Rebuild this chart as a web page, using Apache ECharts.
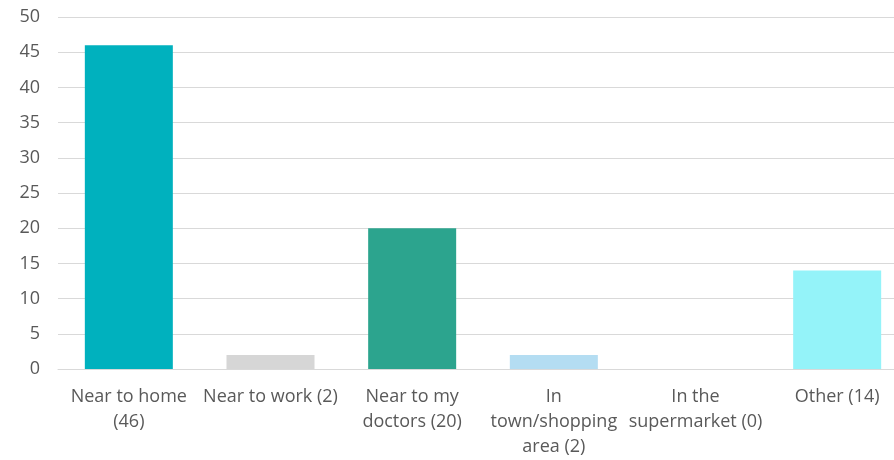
<!DOCTYPE html>
<html><head><meta charset="utf-8">
<script src="https://cdn.jsdelivr.net/npm/echarts@6/dist/echarts.min.js"></script>
<style>html,body{margin:0;padding:0;background:#fff;overflow:hidden;width:894px;height:460px}#c{width:908px;height:460px}</style>
</head><body><div id="c"></div>
<script>
const categories = ["Near to home\n(46)", "Near to work (2)", "Near to my\ndoctors (20)", "In\ntown/shopping\narea (2)", "In the\nsupermarket (0)", "Other (14)"];
const values = [46, 2, 20, 2, 0, 14];
const barColors = ["#00B1BE", "#D6D6D6", "#2CA48E", "#B4DDF2", "#A0A0A0", "#94F3F9"];
const yTicks = { min: 0, max: 50, interval: 5 };

const chart = echarts.init(document.getElementById('c'));
chart.setOption({
  animation: false,
  grid: { left: 58, right: 0, top: 17, bottom: 91, containLabel: false },
  xAxis: {
    type: 'category', data: categories,
    axisLine: { show: true, lineStyle: { color: '#D9D9D9', width: 1 } },
    axisTick: { show: false },
    axisLabel: { interval: 0, color: '#595959', fontSize: 18, fontFamily: 'Open Sans', lineHeight: 25, margin: 15 }
  },
  yAxis: {
    type: 'value', min: yTicks.min, max: yTicks.max, interval: yTicks.interval,
    axisLine: { show: false }, axisTick: { show: false },
    splitLine: { lineStyle: { color: '#D9D9D9', width: 1 } },
    axisLabel: { color: '#595959', fontSize: 18, fontFamily: 'Open Sans', margin: 18 }
  },
  series: [{
    type: 'bar', barWidth: 88,
    data: values.map((v, i) => ({ value: v, itemStyle: { color: barColors[i] } }))
  }]
});
</script></body></html>
